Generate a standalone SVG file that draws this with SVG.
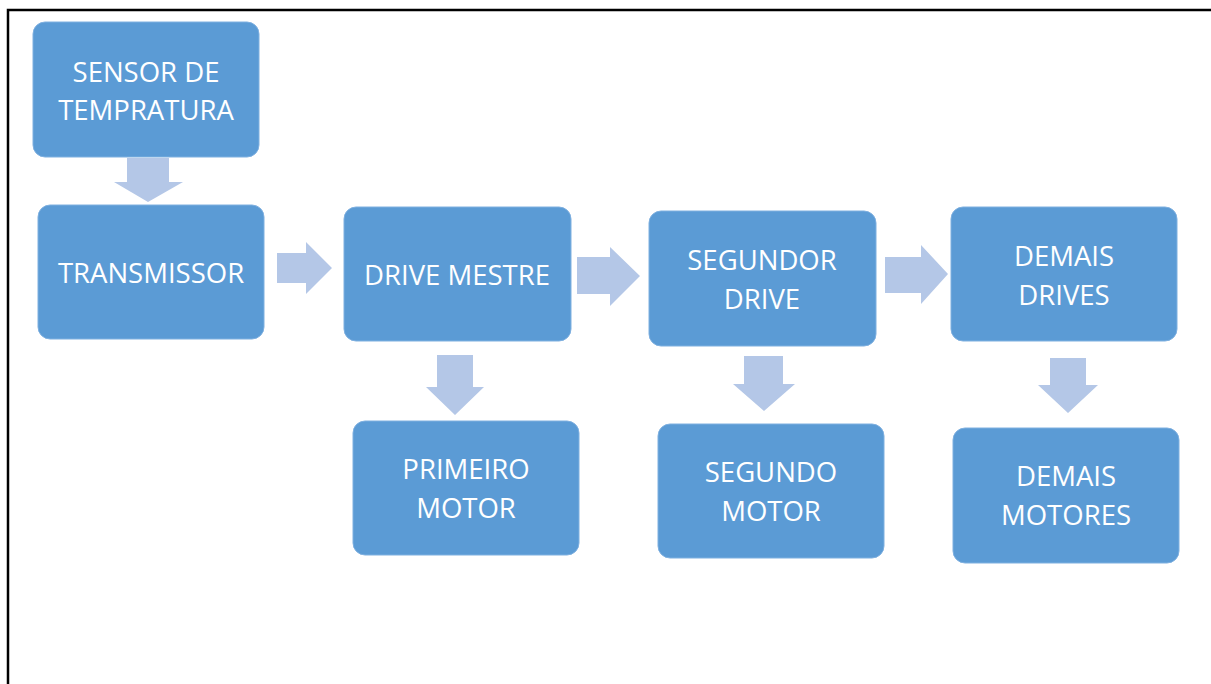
<svg xmlns="http://www.w3.org/2000/svg" width="1211" height="684" viewBox="0 0 1211 684">
<style>
.box{fill:#5B9BD5;stroke:#7FB0E0;stroke-width:1}
.t{fill:#FFFFFF;font-family:"Open Sans","Liberation Sans",sans-serif;font-size:27.5px;text-anchor:middle}
.arr{fill:#B4C7E7}
</style>
<rect x="0" y="0" width="1211" height="684" fill="#FFFFFF"/>
<rect x="8" y="10" width="1212" height="690" fill="none" stroke="#000000" stroke-width="2.5"/>
<g id="connectors">
<polygon class="arr" points="127,158 169,158 169,182 183,182 148,202 114,182 127,182"/>
<polygon class="arr" points="277,253 306,253 306,242 332,268 306,294 306,283 277,283"/>
<polygon class="arr" points="577,257 610,257 610,247 640,276 610,306 610,294 577,294"/>
<polygon class="arr" points="885,257 921,257 921,245 948,274 921,304 921,293 885,293"/>
<polygon class="arr" points="437,355 473,355 473,387 484,387 455,415 426,387 437,387"/>
<polygon class="arr" points="744,356 783,356 783,384 795,384 764,411 733,384 744,384"/>
<polygon class="arr" points="1050,358 1086,358 1086,385 1098,385 1068,413 1038,385 1050,385"/>
</g>
<g id="sensor">
<rect class="box" x="33" y="22" width="226" height="135" rx="12"/>
<text class="t" x="146" y="82">SENSOR DE</text>
<text class="t" x="146" y="120">TEMPRATURA</text>
</g>
<g id="transmissor">
<rect class="box" x="38" y="205" width="226" height="134" rx="12"/>
<text class="t" x="151" y="283">TRANSMISSOR</text>
</g>
<g id="drive-mestre">
<rect class="box" x="344" y="207" width="227" height="134" rx="12"/>
<text class="t" x="457" y="285">DRIVE MESTRE</text>
</g>
<g id="segundor-drive">
<rect class="box" x="649" y="211" width="227" height="135" rx="12"/>
<text class="t" x="762" y="270">SEGUNDOR</text>
<text class="t" x="762" y="309">DRIVE</text>
</g>
<g id="demais-drives">
<rect class="box" x="951" y="207" width="226" height="134" rx="12"/>
<text class="t" x="1064" y="266">DEMAIS</text>
<text class="t" x="1064" y="305">DRIVES</text>
</g>
<g id="primeiro-motor">
<rect class="box" x="353" y="421" width="226" height="134" rx="12"/>
<text class="t" x="466" y="479">PRIMEIRO</text>
<text class="t" x="466" y="518">MOTOR</text>
</g>
<g id="segundo-motor">
<rect class="box" x="658" y="424" width="226" height="134" rx="12"/>
<text class="t" x="771" y="482">SEGUNDO</text>
<text class="t" x="771" y="521">MOTOR</text>
</g>
<g id="demais-motores">
<rect class="box" x="953" y="428" width="226" height="135" rx="12"/>
<text class="t" x="1066" y="486">DEMAIS</text>
<text class="t" x="1066" y="525">MOTORES</text>
</g>
</svg>
